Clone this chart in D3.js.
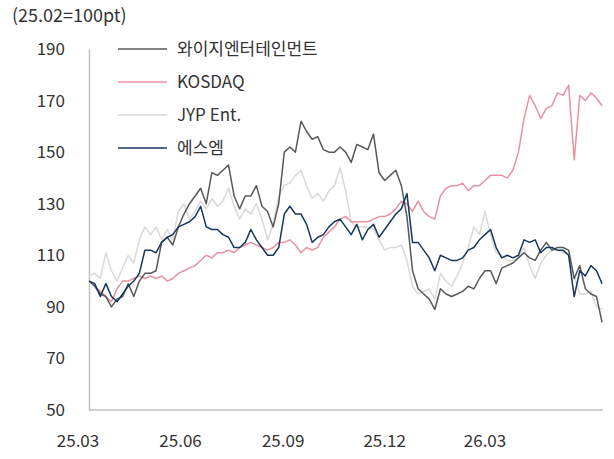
<!DOCTYPE html>
<html>
<head>
<meta charset="utf-8">
<script src="https://cdn.jsdelivr.net/npm/d3@7"></script>
<style>
  body { margin: 0; background: #fff; }
  text { font-family: "Noto Sans CJK KR", "Noto Sans", sans-serif; fill: #333; }
</style>
</head>
<body>
<div id="chart"></div>
<script>
// values, one point every 5 calendar days from 2025-03-11
const startDate = new Date(2025, 2, 11);
const stepDays = 5;

const ygValues = [100,98,95,94,90,93,94,99,94,100,103,103,104,115,117,114,121,126,130,133,
  136,130,142,141,143,145,133,128,133,133,137,129,127,121,130,150,152,150,162,158,
  155,156,151,150,150,152,150,146,153,152,151,157,142,139,141,143,137,125,104,97,
  95,93,89,97,95,94,95,96,98,97,101,104,104,99,105,106,107,109,111,109,
  108,112,115,112,113,113,112,101,106,97,95,94,84];

const kosdaqValues = [100,98,96,94,92,97,100,100,101,102,101,102,101,102,100,101,103,104,105,106,
  108,110,109,111,111,112,111,113,114,115,114,113,112,113,115,115,116,114,111,113,
  112,113,117,119,121,124,125,123,123,123,123,124,125,125,126,128,131,130,127,131,
  127,125,124,133,136,137,137,138,135,137,137,139,141,141,141,140,143,150,163,172,
  168,163,167,168,173,172,176,147,172,170,173,171,168];

const jypValues = [102,103,101,111,104,100,105,110,107,116,121,118,121,116,120,116,127,130,124,127,
  131,128,132,129,131,136,129,124,128,126,130,124,116,122,133,137,138,141,143,137,
  132,134,131,135,137,144,135,123,121,121,121,120,116,112,113,113,114,108,98,95,
  96,97,93,103,100,98,102,107,113,121,118,127,118,111,110,108,108,109,113,106,
  101,107,110,112,112,111,110,102,95,95,96,90,89];

const smValues = [100,99,94,99,94,92,95,98,100,103,112,112,111,115,117,118,121,122,123,125,
  129,121,120,120,118,117,113,113,115,120,116,113,110,110,113,126,129,126,126,122,
  115,117,118,121,123,124,121,118,122,116,120,122,117,120,123,126,128,134,115,115,
  112,109,104,110,109,108,108,109,112,113,116,118,120,113,109,110,109,110,116,115,
  116,111,113,113,112,112,110,94,104,102,106,104,99];

const seriesNames = ["와이지엔터테인먼트", "KOSDAQ", "JYP Ent.", "에스엠"];
const seriesColors = ["#595959", "#e8929f", "#d9d9d9", "#17375e"];
const seriesValues = [ygValues, kosdaqValues, jypValues, smValues];

const yTicks = [50, 70, 90, 110, 130, 150, 170, 190];
const xTickLabels = ["25.03", "25.06", "25.09", "25.12", "26.03"];
const xTickDates = [new Date(2025, 2, 1), new Date(2025, 5, 1), new Date(2025, 8, 1),
  new Date(2025, 11, 1), new Date(2026, 2, 1)];

const width = 614, height = 459;

const svg = d3.select("#chart")
  .append("svg")
    .attr("width", width)
    .attr("height", height);

const x = d3.scaleTime()
  .domain([new Date(2025, 2, 1), new Date(2026, 2, 1)])
  .range([78, 485]);

const y = d3.scaleLinear()
  .domain([50, 190])
  .range([410, 49]);

const dates = ygValues.map((v, i) => d3.timeDay.offset(startDate, i * stepDays));

// title
svg.append("text")
  .attr("x", 12).attr("y", 22)
  .style("font-size", "18px")
  .text("(25.02=100pt)");

// y axis
const yAxis = svg.append("g")
  .attr("transform", "translate(89,0)")
  .call(d3.axisLeft(y).tickValues(yTicks).tickSize(0).tickPadding(24));
yAxis.select(".domain").attr("stroke", "#bfbfbf").attr("stroke-width", 1.5);
yAxis.selectAll("text")
  .style("font-size", "17px")
  .style("font-family", "'Noto Sans CJK KR', sans-serif")
  .attr("fill", "#333");

// x axis line
svg.append("line")
  .attr("x1", 89).attr("x2", 603)
  .attr("y1", y(50)).attr("y2", y(50))
  .attr("stroke", "#bfbfbf").attr("stroke-width", 1.5);

// x labels
svg.append("g")
  .selectAll("text")
  .data(xTickDates)
  .join("text")
    .attr("x", d => x(d))
    .attr("y", 447)
    .attr("text-anchor", "middle")
    .style("font-size", "17px")
    .text((d, i) => xTickLabels[i]);

// lines, JYP at the back
const line = d3.line()
  .x((d, i) => x(dates[i]))
  .y(d => y(d));

const drawOrder = [2, 1, 0, 3];
svg.append("g")
  .selectAll("path")
  .data(drawOrder)
  .join("path")
    .attr("fill", "none")
    .attr("stroke", k => seriesColors[k])
    .attr("stroke-width", 1.5)
    .attr("stroke-linejoin", "round")
    .attr("d", k => line(seriesValues[k]));

// legend
const legend = svg.append("g")
  .selectAll("g")
  .data(seriesNames)
  .join("g")
    .attr("transform", (d, i) => `translate(118, ${49 + i * 33})`);
legend.append("line")
  .attr("x1", 0).attr("x2", 49)
  .attr("stroke", (d, i) => seriesColors[i])
  .attr("stroke-width", 1.5);
legend.append("text")
  .attr("x", 59).attr("y", 0)
  .attr("dy", "0.35em")
  .style("font-size", "17px")
  .text(d => d);
</script>
</body>
</html>
